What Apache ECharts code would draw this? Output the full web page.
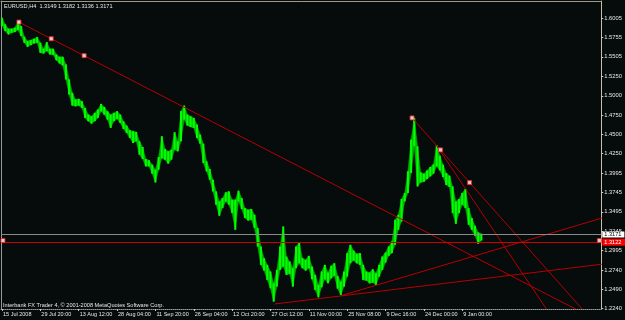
<!DOCTYPE html>
<html><head><meta charset="utf-8">
<script src="https://cdn.jsdelivr.net/npm/echarts@6/dist/echarts.min.js"></script>
<style>html,body{margin:0;padding:0;background:#060b0b;}#c{width:625px;height:320px;}</style>
</head><body><div id="c"></div>
<script>
const symbolName = 'EURUSD,H4';
const quote = [1.3149, 1.3182, 1.3136, 1.3171];
const footerText = 'Interbank FX Trader 4, \u00A9 2001-2008 MetaQuotes Software Corp.';

const timeLabels = ['15 Jul 2008','29 Jul 20:00','13 Aug 12:00','28 Aug 04:00','11 Sep 20:00','26 Sep 04:00','12 Oct 20:00','27 Oct 12:00','11 Nov 00:00','25 Nov 08:00','9 Dec 16:00','24 Dec 00:00','9 Jan 00:00'];
const timeLabelBars = [0,12,24,36,48,60,72,84,96,108,120,132,144];
const priceLabels = [1.2240,1.2490,1.2740,1.2995,1.3245,1.3495,1.3745,1.3995,1.4250,1.4500,1.4750,1.5000,1.5250,1.5505,1.5755,1.6005];

const barHigh = [
1.6014,1.5927,1.5871,1.5871,1.5884,1.5957,1.5905,1.5766,1.5710,1.5723,
1.5740,1.5762,1.5688,1.5610,1.5697,1.5610,1.5610,1.5537,1.5506,1.5506,
1.5407,1.5212,1.5038,1.4952,1.4960,1.4930,1.4843,1.4756,1.4735,1.4778,
1.4822,1.4895,1.4856,1.4800,1.4756,1.4778,1.4800,1.4756,1.4670,1.4613,
1.4553,1.4540,1.4531,1.4410,1.4336,1.4180,1.4163,1.4106,1.4041,1.4206,
1.4475,1.4310,1.4280,1.4301,1.4527,1.4410,1.4800,1.4873,1.4756,1.4735,
1.4713,1.4626,1.4496,1.4379,1.4150,1.4050,1.3911,1.3759,1.3629,1.3673,
1.3746,1.3759,1.3651,1.3651,1.3768,1.3673,1.3543,1.3521,1.3530,1.3456,
1.3283,1.3044,1.2892,1.2806,1.2719,1.2567,1.2741,1.3044,1.3304,1.2914,
1.2849,1.2762,1.3044,1.3096,1.2892,1.2871,1.2923,1.2784,1.2676,1.2546,
1.2719,1.2806,1.2706,1.2793,1.2827,1.2663,1.2589,1.2719,1.2958,1.3066,
1.2992,1.2949,1.2958,1.2806,1.2719,1.2706,1.2749,1.2697,1.2806,1.2914,
1.2966,1.3044,1.3109,1.3391,1.3456,1.3660,1.3738,1.4020,1.4431,1.4713,
1.4345,1.4006,1.3989,1.4032,1.4076,1.4110,1.4358,1.4223,1.4106,1.3998,
1.3963,1.3824,1.3629,1.3660,1.3738,1.3790,1.3543,1.3413,1.3313,1.3226,
1.3209];
const barLow = [
1.5905,1.5840,1.5797,1.5818,1.5827,1.5853,1.5775,1.5688,1.5636,1.5658,
1.5680,1.5688,1.5558,1.5550,1.5580,1.5537,1.5532,1.5463,1.5420,1.5394,
1.5212,1.5017,1.4873,1.4865,1.4873,1.4843,1.4713,1.4670,1.4639,1.4670,
1.4713,1.4800,1.4756,1.4691,1.4583,1.4670,1.4700,1.4648,1.4570,1.4518,
1.4453,1.4388,1.4410,1.4236,1.4180,1.4085,1.4085,1.3989,1.3876,1.4041,
1.4190,1.4171,1.4119,1.4171,1.4301,1.4280,1.4410,1.4691,1.4613,1.4596,
1.4583,1.4453,1.4379,1.4128,1.4020,1.3911,1.3759,1.3586,1.3443,1.3543,
1.3629,1.3586,1.3478,1.3261,1.3629,1.3530,1.3413,1.3382,1.3391,1.3283,
1.3044,1.2806,1.2732,1.2611,1.2502,1.2329,1.2524,1.2741,1.2784,1.2676,
1.2689,1.2524,1.2762,1.2827,1.2762,1.2732,1.2762,1.2619,1.2481,1.2385,
1.2515,1.2619,1.2567,1.2632,1.2663,1.2498,1.2416,1.2524,1.2654,1.2827,
1.2862,1.2827,1.2806,1.2611,1.2602,1.2567,1.2576,1.2546,1.2654,1.2741,
1.2836,1.2923,1.2958,1.3066,1.3261,1.3369,1.3629,1.3738,1.3998,1.4345,
1.3824,1.3876,1.3885,1.3920,1.3955,1.3989,1.4085,1.4032,1.3946,1.3842,
1.3816,1.3478,1.3339,1.3478,1.3586,1.3543,1.3326,1.3261,1.3183,1.3079,
1.3122];

// trend line objects: [startBar, startPrice], [endBar, endPrice]
const trendLines = [
  [[5.3,1.5957],[179.6,1.2229]],
  [[128.3,1.4713],[181.6,1.2229]],
  [[135.9,1.4357],[170.4,1.2229]],
  [[85.3,1.2298],[187.7,1.2814]],
  [[106.1,1.2406],[187.7,1.3413]]
];
const anchorPoints = [[5.3,1.5957],[15.4,1.5741],[25.7,1.5521],[128.3,1.4713],[137.2,1.4298],[146.3,1.3874],[0.3,1.3122],[186.9,1.3122]];
const hLinePrice = 1.3122;
const lastPrice = 1.3171;

const FONT = 'Liberation Sans';
// each item: bar index, low, high, next low, next high
const bars = barHigh.map((h, i) => [i, barLow[i], h,
  i + 1 < barHigh.length ? barLow[i + 1] : barLow[i],
  i + 1 < barHigh.length ? barHigh[i + 1] : h]);

const chart = echarts.init(document.getElementById('c'), null, {renderer: 'canvas'});
const series = [];
series.push({
  type: 'custom', data: bars, z: 3, clip: true,
  renderItem: function (params, api) {
    const i = api.value(0);
    const lo = api.coord([i, api.value(1)]);
    const hi = api.coord([i, api.value(2)]);
    const last = params.dataIndex === params.dataInsideLength - 1;
    const nLo = api.coord([last ? i : i + 1, api.value(3)]);
    const nHi = api.coord([last ? i : i + 1, api.value(4)]);
    return {type: 'group', children: [
      {type: 'polygon', shape: {points: [[hi[0], hi[1]], [nHi[0], nHi[1]], [nLo[0], nLo[1]], [lo[0], lo[1]]]},
        style: {fill: '#00b400', stroke: '#00b400', lineWidth: 0.5}},
      {type: 'rect', shape: {x: lo[0] - 1, y: hi[1], width: 2, height: Math.max(1, lo[1] - hi[1])},
        style: {fill: '#00ff00'}}
    ]};
  }
});
trendLines.forEach((tl, k) => {
  const s = {type: 'line', data: tl, symbol: 'none', showSymbol: false, clip: true, z: 4,
    lineStyle: {color: '#b80000', width: 1}, silent: true};
  if (k === 0) {
    s.markLine = {silent: true, symbol: ['none', 'none'], animation: false,
      data: [
        {yAxis: lastPrice, lineStyle: {color: '#8a8a8a', width: 1, type: 'solid'},
         label: {show: true, position: 'end', distance: 1, formatter: lastPrice.toFixed(4), backgroundColor: '#ffffff', color: '#000000', fontSize: 5.6, fontFamily: FONT, padding: [1, 3, 0, 2], lineHeight: 5}},
        {yAxis: hLinePrice, lineStyle: {color: '#d00000', width: 1, type: 'solid'},
         label: {show: true, position: 'end', distance: 1, formatter: hLinePrice.toFixed(4), backgroundColor: '#ff0000', color: '#ffffff', fontSize: 5.6, fontFamily: FONT, padding: [1, 4, 1, 2], lineHeight: 5}}
      ]};
  }
  series.push(s);
});
series.push({type: 'scatter', data: anchorPoints, symbol: 'rect', symbolSize: 4, z: 6, silent: true,
  itemStyle: {color: '#ffffff', borderColor: '#ff2020', borderWidth: 1}});

chart.setOption({
  animation: false,
  backgroundColor: '#060b0b',
  title: [
    {text: symbolName + '  ' + quote.map(v => v.toFixed(4)).join(' '), left: 4, top: 3, padding: 0,
     textStyle: {color: '#e8e8e8', fontSize: 5.6, fontWeight: 'normal', fontFamily: FONT}},
    {text: footerText, left: 3, top: 302, padding: 0,
     textStyle: {color: '#e8e8e8', fontSize: 5.6, fontWeight: 'normal', fontFamily: FONT}}
  ],
  grid: {left: 1, right: 23, top: 1, bottom: 11, show: false},
  xAxis: [
    {type: 'value', min: -0.3125, max: 187.5, position: 'bottom',
     axisLine: {show: true, onZero: false, lineStyle: {color: '#9a9a9a', type: 'dotted'}},
     splitLine: {show: false},
     axisTick: {show: true, customValues: timeLabelBars, length: 2, lineStyle: {color: '#cccccc'}},
     axisLabel: {customValues: timeLabelBars, formatter: v => timeLabels[timeLabelBars.indexOf(Math.round(v))],
       align: 'left', color: '#e8e8e8', fontSize: 5.5, fontFamily: FONT, margin: 2, padding: [0, 0, 0, 1]}},
    {type: 'value', min: -0.3125, max: 187.5, position: 'top',
     axisLine: {show: true, onZero: false, lineStyle: {color: '#a09a88'}},
     axisTick: {show: false}, axisLabel: {show: false}, splitLine: {show: false}}
  ],
  yAxis: [
    {type: 'value', min: 1.2233, max: 1.62304, position: 'right',
     axisLine: {show: true, onZero: false, lineStyle: {color: '#c8c0a0'}},
     splitLine: {show: false},
     axisTick: {show: true, customValues: priceLabels, length: 2, lineStyle: {color: '#cccccc'}},
     axisLabel: {customValues: priceLabels, formatter: v => v.toFixed(4), color: '#e8e8e8', fontSize: 5.8, fontFamily: FONT, margin: 3}},
    {type: 'value', min: 1.2233, max: 1.62304, position: 'left',
     axisLine: {show: true, onZero: false, lineStyle: {color: '#9a9a9a'}},
     axisTick: {show: false}, axisLabel: {show: false}, splitLine: {show: false}}
  ],
  series: series
});
</script>
</body></html>
